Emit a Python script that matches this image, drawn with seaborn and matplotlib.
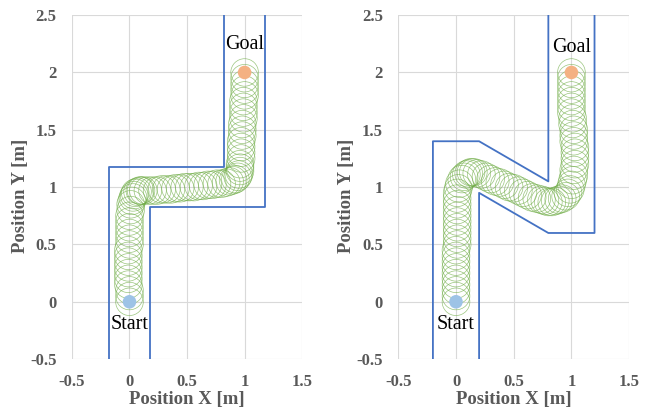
import matplotlib
matplotlib.use("Agg")
import matplotlib.pyplot as plt
from matplotlib.patches import Circle
import numpy as np
import pandas as pd
import seaborn as sns

# ---- tick values and labels ----
x_ticks = [-0.5, 0.0, 0.5, 1.0, 1.5]
x_tick_labels = ["-0.5", "0", "0.5", "1", "1.5"]
y_ticks = [-0.5, 0.0, 0.5, 1.0, 1.5, 2.0, 2.5]
y_tick_labels = ["-0.5", "0", "0.5", "1", "1.5", "2", "2.5"]

# ---- start / goal ----
start_xy = (0.0, 0.0)
goal_xy = (1.0, 2.0)
robot_radius = 0.12

# ---- corridor walls, case 1 (right-angle crank) ----
left_wall_a_x = [-0.175, -0.175, 0.825, 0.825]
left_wall_a_y = [-0.5, 1.175, 1.175, 2.5]
left_wall_b_x = [0.175, 0.175, 1.175, 1.175]
left_wall_b_y = [-0.5, 0.825, 0.825, 2.5]

# ---- corridor walls, case 2 (slanted crank) ----
right_wall_a_x = [-0.2, -0.2, 0.2, 0.8, 0.8]
right_wall_a_y = [-0.5, 1.4, 1.4, 1.05, 2.5]
right_wall_b_x = [0.2, 0.2, 0.8, 1.2, 1.2]
right_wall_b_y = [-0.5, 0.95, 0.6, 0.6, 2.5]

# ---- robot footprint centres along the trajectory, case 1 ----
left_path_x = [
    0.00, 0.00, 0.00, -0.01, -0.01, -0.01, -0.01, -0.01, -0.01, -0.01,
    0.00, 0.00, 0.00, 0.00, 0.00, 0.00, 0.01, 0.01,
    0.02, 0.03, 0.04, 0.05, 0.07, 0.09, 0.10, 0.12,
    0.16, 0.20, 0.24, 0.28, 0.32, 0.36, 0.40, 0.44, 0.48, 0.52,
    0.56, 0.60, 0.64, 0.68, 0.72, 0.76, 0.80, 0.84,
    0.87, 0.90, 0.92, 0.94, 0.95, 0.96, 0.96, 0.96,
    0.97, 0.97, 0.97, 0.97, 0.98, 0.98, 0.98, 0.99, 0.99, 0.99,
    0.99, 1.00, 1.00, 1.00, 1.00, 1.00,
]
left_path_y = [
    0.00, 0.05, 0.10, 0.15, 0.20, 0.25, 0.30, 0.35, 0.40, 0.45,
    0.50, 0.55, 0.60, 0.65, 0.70, 0.75, 0.80, 0.85,
    0.88, 0.91, 0.93, 0.95, 0.96, 0.97, 0.97, 0.97,
    0.97, 0.97, 0.97, 0.98, 0.98, 0.98, 0.99, 0.99, 1.00, 1.00,
    1.00, 1.01, 1.01, 1.02, 1.02, 1.03, 1.03, 1.04,
    1.05, 1.06, 1.07, 1.09, 1.11, 1.14, 1.17, 1.20,
    1.25, 1.30, 1.35, 1.40, 1.45, 1.50, 1.55, 1.60, 1.65, 1.70,
    1.75, 1.80, 1.85, 1.90, 1.95, 2.00,
]

# ---- robot footprint centres along the trajectory, case 2 ----
right_path_x = [
    0.00, 0.00, 0.00, 0.00, 0.00, 0.00, 0.00, 0.00, 0.00, 0.00,
    0.01, 0.01, 0.01, 0.01, 0.01, 0.01, 0.01, 0.01, 0.01, 0.01,
    0.02, 0.03, 0.05, 0.07, 0.09, 0.11, 0.13, 0.15, 0.18,
    0.22, 0.26, 0.30, 0.34, 0.38, 0.42, 0.46, 0.50, 0.54, 0.58,
    0.62, 0.66, 0.70, 0.74,
    0.77, 0.80, 0.83, 0.86, 0.89, 0.92, 0.95, 0.97, 0.99, 1.00,
    1.01, 1.02, 1.02, 1.03, 1.03, 1.03, 1.03, 1.02, 1.02, 1.02,
    1.01, 1.01, 1.00, 1.00, 1.00, 1.00, 1.00, 1.00, 1.00, 1.00,
]
right_path_y = [
    0.00, 0.05, 0.10, 0.15, 0.20, 0.25, 0.30, 0.35, 0.40, 0.45,
    0.50, 0.55, 0.60, 0.65, 0.70, 0.75, 0.80, 0.85, 0.90, 0.95,
    0.99, 1.03, 1.07, 1.09, 1.11, 1.12, 1.13, 1.13, 1.12,
    1.11, 1.09, 1.07, 1.05, 1.04, 1.02, 1.00, 0.99, 0.97, 0.95,
    0.93, 0.91, 0.90, 0.89,
    0.88, 0.87, 0.87, 0.88, 0.89, 0.90, 0.92, 0.95, 0.98, 1.02,
    1.06, 1.10, 1.15, 1.20, 1.25, 1.30, 1.35, 1.40, 1.45, 1.50,
    1.55, 1.60, 1.65, 1.70, 1.75, 1.80, 1.85, 1.90, 1.95, 2.00,
]

# ---- styling ----
sns.set_theme(style="whitegrid")
plt.rcParams["font.family"] = ["Liberation Serif", "DejaVu Serif"]

grey = "#595959"
wall_color = "#4472C4"
robot_color = "#70AD47"
start_color = "#9DC3E6"
goal_color = "#F4B183"

fig = plt.figure(figsize=(6.54, 4.09), dpi=100)
ax_left = fig.add_axes([0.110, 0.122, 0.352, 0.841])
ax_right = fig.add_axes([0.609, 0.122, 0.353, 0.841])

cases = [
    (ax_left, left_path_x, left_path_y,
     [(left_wall_a_x, left_wall_a_y), (left_wall_b_x, left_wall_b_y)], 2.24),
    (ax_right, right_path_x, right_path_y,
     [(right_wall_a_x, right_wall_a_y), (right_wall_b_x, right_wall_b_y)], 2.22),
]

for ax, px, py, walls, goal_label_y in cases:
    # walls
    for wx, wy in walls:
        wall_df = pd.DataFrame({"x": wx, "y": wy})
        sns.lineplot(data=wall_df, x="x", y="y", sort=False, estimator=None,
                     color=wall_color, linewidth=1.3, ax=ax, zorder=3)

    # robot footprint along the path
    for cx, cy in zip(px, py):
        ax.add_patch(Circle((cx, cy), robot_radius, fill=False,
                            edgecolor=robot_color, linewidth=0.5,
                            alpha=0.7, zorder=2))

    # start and goal markers
    marker_df = pd.DataFrame({"x": [start_xy[0], goal_xy[0]],
                              "y": [start_xy[1], goal_xy[1]],
                              "kind": ["Start", "Goal"]})
    sns.scatterplot(data=marker_df, x="x", y="y", hue="kind",
                    palette={"Start": start_color, "Goal": goal_color},
                    s=95, edgecolor="none", legend=False, ax=ax, zorder=4)

    ax.text(start_xy[0], -0.2, "Start", ha="center", va="center",
            fontsize=14.5, color="black", zorder=5)
    ax.text(goal_xy[0], goal_label_y, "Goal", ha="center", va="center",
            fontsize=14.5, color="black", zorder=5)

    ax.set_xlim(-0.5, 1.5)
    ax.set_ylim(-0.5, 2.5)
    ax.set_xticks(x_ticks)
    ax.set_xticklabels(x_tick_labels)
    ax.set_yticks(y_ticks)
    ax.set_yticklabels(y_tick_labels)
    ax.tick_params(axis="x", labelsize=12, labelcolor=grey, length=0, pad=11)
    ax.tick_params(axis="y", labelsize=12, labelcolor=grey, length=0, pad=11)
    for lab in ax.get_xticklabels() + ax.get_yticklabels():
        lab.set_fontweight("bold")
    ax.grid(True, color="#D9D9D9", linewidth=0.8)
    ax.set_axisbelow(True)
    for spine in ax.spines.values():
        spine.set_visible(False)
    ax.set_facecolor("white")
    ax.set_xlabel("Position X [m]", fontsize=13.5, fontweight="bold", color=grey)
    ax.set_ylabel("Position Y [m]", fontsize=13.5, fontweight="bold", color=grey)
    ax.xaxis.label.set_verticalalignment("center")
    ax.yaxis.label.set_verticalalignment("center")
    ax.xaxis.set_label_coords(0.5, -0.117)
    ax.yaxis.set_label_coords(-0.225, 0.474)

fig.savefig("out.png", dpi=100, facecolor="white")
